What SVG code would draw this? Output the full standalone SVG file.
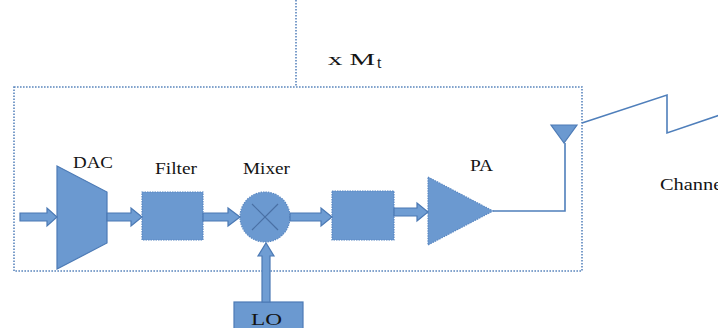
<svg xmlns="http://www.w3.org/2000/svg" width="718" height="328" viewBox="0 0 718 328">
  <style>
    .blk { fill: #6b99d0; stroke: #5a88c2; stroke-width: 1.2; stroke-dasharray: 1.5 1; }
    .solid { fill: #6b99d0; stroke: #4d7bb6; stroke-width: 1.2; }
    .arrow { fill: #6f9dd3; stroke: #4b79b4; stroke-width: 1.2; }
    .wire { fill: none; stroke: #4f7fbb; stroke-width: 1.6; }
    .dot { fill: none; stroke: #5b86bd; stroke-width: 1.6; stroke-dasharray: 1.6 1.4; }
    .lbl { font-family: "Liberation Serif", "Times New Roman", serif; font-size: 16px; fill: #141414; }
  </style>

  <!-- array boundary and stacking line -->
  <g id="frame">
    <rect class="dot" x="14" y="87" width="568" height="184"/>
    <line class="dot" x1="296" y1="0" x2="296" y2="87"/>
    <text class="lbl" x="328" y="65" textLength="47" lengthAdjust="spacingAndGlyphs">x M</text>
    <text class="lbl" x="377" y="68" font-size="9">t</text>
  </g>

  <g id="dac">
    <polygon class="solid" points="57,166 107,192 107,243 57,269"/>
    <text class="lbl" x="73" y="168" textLength="40" lengthAdjust="spacingAndGlyphs">DAC</text>
  </g>

  <g id="filter">
    <rect class="blk" x="142" y="192" width="61" height="48"/>
    <text class="lbl" x="155" y="174" textLength="42" lengthAdjust="spacingAndGlyphs">Filter</text>
  </g>

  <g id="mixer">
    <circle class="blk" cx="265" cy="217" r="25"/>
    <line x1="252" y1="204" x2="278" y2="230" stroke="#4a70a4" stroke-width="1.2"/>
    <line x1="278" y1="204" x2="252" y2="230" stroke="#4a70a4" stroke-width="1.2"/>
    <text class="lbl" x="243" y="174" textLength="47" lengthAdjust="spacingAndGlyphs">Mixer</text>
  </g>

  <g id="block2">
    <rect class="blk" x="332" y="191" width="62" height="49"/>
  </g>

  <g id="pa">
    <polygon class="blk" points="428,177 493,211 428,245"/>
    <text class="lbl" x="470" y="171" textLength="23" lengthAdjust="spacingAndGlyphs">PA</text>
  </g>

  <g id="antenna">
    <polygon class="solid" points="551,125 577,125 564,143"/>
  </g>

  <g id="lo">
    <rect class="solid" x="234" y="302" width="69" height="30"/>
    <text class="lbl" x="251" y="325" font-size="27" textLength="31" lengthAdjust="spacingAndGlyphs">LO</text>
  </g>

  <g id="channel">
    <text class="lbl" x="660" y="190" textLength="68" lengthAdjust="spacingAndGlyphs">Channel</text>
  </g>

  <g id="connectors">
    <!-- block arrows along the signal chain -->
    <polygon class="arrow" points="20,213 47,213 47,208 57,217 47,226 47,221 20,221"/>
    <polygon class="arrow" points="107,213 131,213 131,208 142,217 131,226 131,221 107,221"/>
    <polygon class="arrow" points="203,213 228,213 228,208 240,217 228,226 228,221 203,221"/>
    <polygon class="arrow" points="290,213 321,213 321,208 332,217 321,226 321,221 290,221"/>
    <polygon class="arrow" points="394,208 417,208 417,203 428,212 417,221 417,216 394,216"/>
    <!-- LO drive into the mixer -->
    <polygon class="arrow" points="262,302 262,256 258,256 266,243 274,256 270,256 270,302"/>
    <!-- PA output to antenna -->
    <polyline class="wire" points="493,211 565,211 565,143"/>
    <!-- wireless channel -->
    <polyline class="wire" points="582,123 667,95 667,133 720,115"/>
  </g>
</svg>
